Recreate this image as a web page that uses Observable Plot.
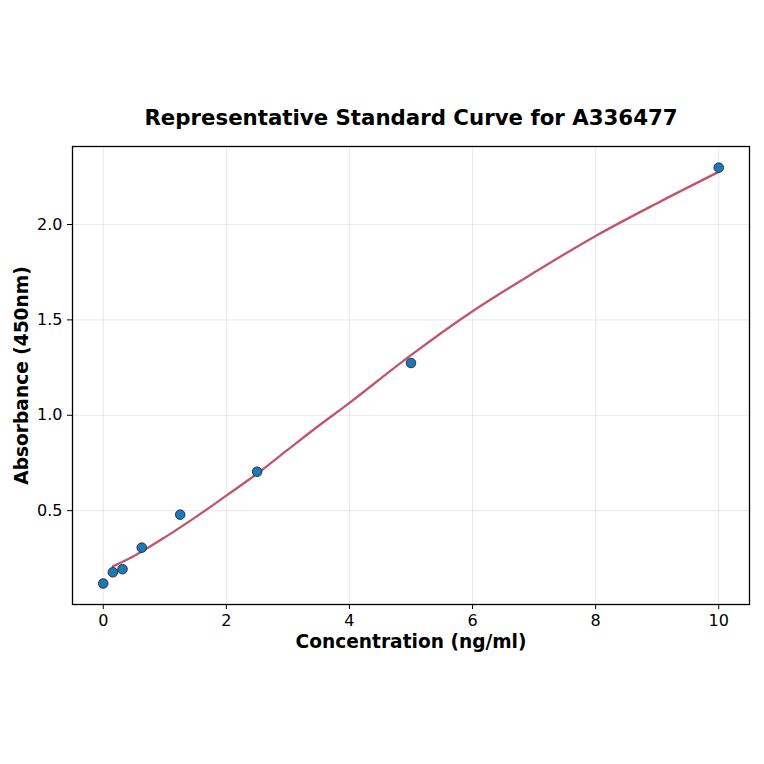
<!DOCTYPE html>
<html>
<head>
<meta charset="utf-8">
<script src="https://cdn.jsdelivr.net/npm/d3@7"></script>
<script src="https://cdn.jsdelivr.net/npm/@observablehq/plot@0.6"></script>
<style>
  html, body { margin: 0; padding: 0; background: #fff; }
  #chart svg { display: block; }
</style>
</head>
<body>
<div id="chart"></div>
<script>
const title = "Representative Standard Curve for A336477";
const xLabel = "Concentration (ng/ml)";
const yLabel = "Absorbance (450nm)";

// measured standards
const conc = [0, 0.156, 0.3125, 0.625, 1.25, 2.5, 5, 10];
const absorb = [0.118, 0.177, 0.193, 0.306, 0.479, 0.704, 1.274, 2.298];

// fitted curve
const curveX = [0.156, 0.5, 1, 1.5, 2, 2.5, 3, 3.5, 4, 5, 6, 7, 8, 9, 10];
const curveY = [0.208, 0.262, 0.36, 0.466, 0.579, 0.694, 0.82, 0.945, 1.065, 1.315, 1.545, 1.748, 1.94, 2.112, 2.276];

const xTicks = [0, 2, 4, 6, 8, 10];
const yTicks = [0.5, 1.0, 1.5, 2.0];

const points = conc.map((x, i) => ({x, y: absorb[i]}));
const curve = curveX.map((x, i) => ({x, y: curveY[i]}));

const chart = Plot.plot({
  width: 764,
  height: 764,
  marginTop: 146,
  marginLeft: 72,
  marginRight: 15,
  marginBottom: 160,
  style: {fontFamily: "DejaVu Sans", fontSize: "16px", color: "#000", background: "#fff"},
  x: {domain: [-0.5, 10.5], label: null},
  y: {domain: [0.008, 2.409], label: null},
  marks: [
    Plot.gridX(xTicks, {stroke: "#b0b0b0", strokeOpacity: 0.35, strokeWidth: 0.8}),
    Plot.gridY(yTicks, {stroke: "#b0b0b0", strokeOpacity: 0.35, strokeWidth: 0.8}),
    Plot.axisX({ticks: xTicks, tickFormat: d => String(d), tickSize: 5, tickPadding: 5, fontSize: 16, label: null, stroke: "#000"}),
    Plot.axisY({ticks: yTicks, tickFormat: d => d.toFixed(1), tickSize: 5, tickPadding: 5, fontSize: 16, label: null, stroke: "#000"}),
    Plot.line(curve, {x: "x", y: "y", stroke: "#c1566b", strokeWidth: 2.3, curve: "catmull-rom"}),
    Plot.dot(points, {x: "x", y: "y", r: 4.8, fill: "#1f77b4", stroke: "#1a2a3a", strokeWidth: 0.9}),
    Plot.frame({stroke: "#000", strokeWidth: 1.3}),
    Plot.text([title], {frameAnchor: "top", lineAnchor: "middle", dy: -28, fontSize: 21.3, fontWeight: "bold", fill: "#000"}),
    Plot.text([xLabel], {frameAnchor: "bottom", lineAnchor: "middle", dy: 38, fontSize: 18.6, fontWeight: "bold", fill: "#000"}),
    Plot.text([yLabel], {frameAnchor: "left", textAnchor: "middle", lineAnchor: "middle", dx: -50, rotate: -90, fontSize: 18.6, fontWeight: "bold", fill: "#000"})
  ]
});
document.getElementById("chart").appendChild(chart);
</script>
</body>
</html>
